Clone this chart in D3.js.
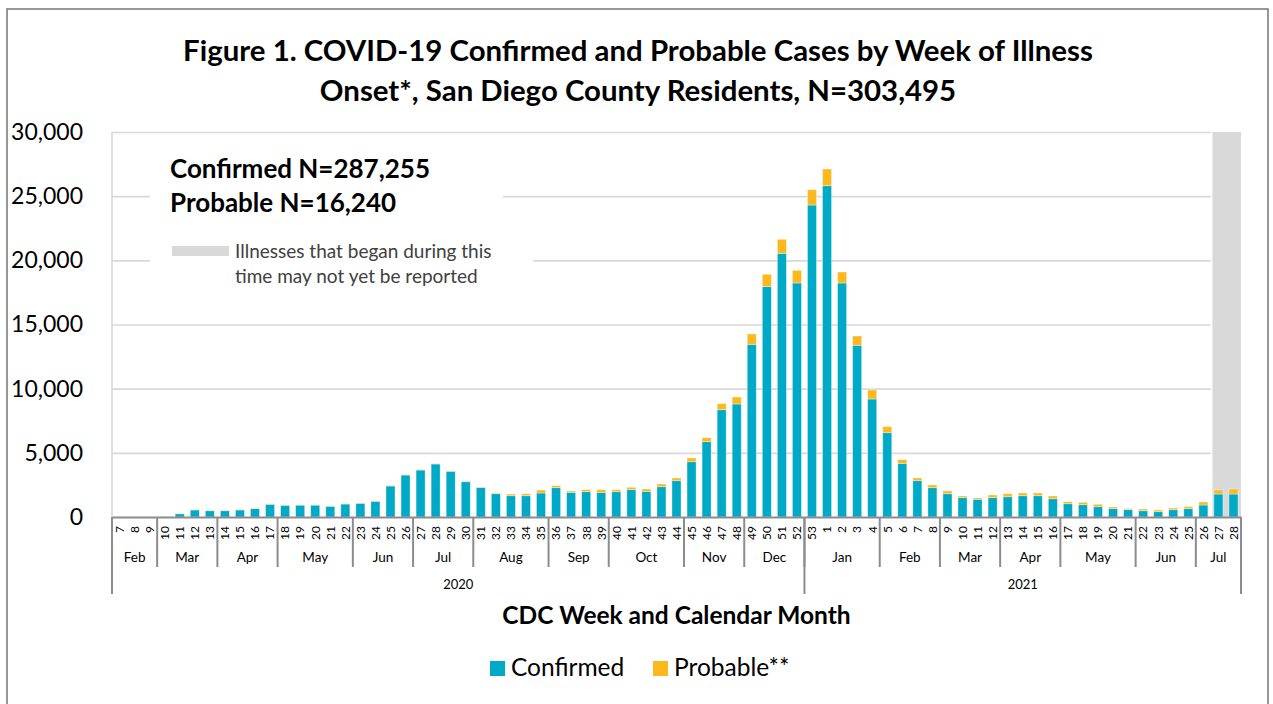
<!DOCTYPE html>
<html>
<head>
<meta charset="utf-8">
<script src="https://cdn.jsdelivr.net/npm/d3@7"></script>
<style>
  html, body { margin: 0; padding: 0; background: #fff; }
  svg { display: block; font-family: Lato, "Open Sans", sans-serif; }
</style>
</head>
<body>
<svg id="chart" width="1273" height="704"></svg>
<script>
// ---------------- DATA ----------------
const weekLabels = [
  "7","8","9","10","11","12","13","14","15","16","17","18","19","20","21","22","23","24","25","26",
  "27","28","29","30","31","32","33","34","35","36","37","38","39","40","41","42","43","44","45","46",
  "47","48","49","50","51","52",
  "53","1","2","3","4","5","6","7","8","9","10","11","12","13","14","15","16","17","18","19","20",
  "21","22","23","24","25","26","27","28"
];
const confirmed = [
  0,0,0,10,250,550,490,490,550,650,990,910,925,925,830,1010,1065,1220,2415,3270,
  3660,4130,3560,2750,2300,1815,1660,1660,1870,2285,1920,1975,1920,1975,2130,2000,2360,2830,4310,5870,
  8360,8805,13455,17950,20545,18235,
  24310,25815,18235,13380,9195,6570,4180,2830,2285,1815,1505,1380,1505,1580,1660,1660,1425,1035,960,805,650,
  570,490,415,570,650,935,1790,1790
];
const probable = [
  0,0,0,0,10,20,20,20,20,25,30,30,30,30,30,30,30,30,30,30,
  30,30,30,30,30,60,130,150,230,155,105,155,210,155,185,180,210,210,290,310,
  470,545,805,960,1095,985,
  1195,1300,855,725,700,470,290,210,210,210,130,100,210,235,210,210,210,155,185,185,130,
  80,130,130,130,155,235,315,390
];
const monthLabels = ["Feb","Mar","Apr","May","Jun","Jul","Aug","Sep","Oct","Nov","Dec",
                     "Jan","Feb","Mar","Apr","May","Jun","Jul"];
const monthWeekCounts = [3,4,4,5,4,4,5,4,5,4,4, 5,4,4,4,5,4,3];
const yearLabels = ["2020","2021"];
const yearWeekCounts = [46,29];
const yTicks = [0,5000,10000,15000,20000,25000,30000];
const notReportedWeeks = [73,74]; // indices of last two weeks (27, 28 of 2021)
const seriesNames = ["Confirmed","Probable**"];
const seriesColors = ["#00A9C6","#FDB81E"];
const titleLines = ["Figure 1. COVID-19 Confirmed and Probable Cases by Week of Illness",
                    "Onset*, San Diego County Residents, N=303,495"];
const noteLines = ["Confirmed N=287,255","Probable N=16,240"];
const shadeNote = ["Illnesses that began during this","time may not yet be reported"];
const xTitle = "CDC Week and Calendar Month";

// ---------------- LAYOUT ----------------
const svg = d3.select("#chart");
const pLeft = 112, pRight = 1241, pTop = 132, pBottom = 517;
const idx = d3.range(weekLabels.length);

const x = d3.scaleBand().domain(idx).range([pLeft, pRight]).paddingInner(0.4).paddingOuter(0.2);
const y = d3.scaleLinear().domain([0, 30000]).range([pBottom, pTop]);
const step = x.step();
const cellStart = i => x(i) - (step - x.bandwidth()) / 2;

// outer frame
svg.append("rect").attr("x", 7).attr("y", 9).attr("width", 1261).attr("height", 710)
  .attr("fill", "#fff").attr("stroke", "#767676").attr("stroke-width", 1.5);

// title
svg.append("g").selectAll("text").data(titleLines).join("text")
  .attr("x", 638).attr("y", (d, i) => 61 + i * 40)
  .attr("text-anchor", "middle").attr("font-weight", "bold").attr("font-size", 29.4)
  .attr("fill", "#000").text(d => d);

// shaded "not yet reported" region
svg.append("rect")
  .attr("x", cellStart(notReportedWeeks[0]) + 1.5)
  .attr("y", y(30000))
  .attr("width", step * notReportedWeeks.length - 1.5)
  .attr("height", y(0) - y(30000))
  .attr("fill", "#D9D9D9");

// gridlines
const grid = svg.append("g").attr("transform", `translate(${pLeft},0)`)
  .call(d3.axisLeft(y).tickValues(yTicks.filter(t => t > 0)).tickSize(-(cellStart(notReportedWeeks[0]) - pLeft)).tickFormat(""));
grid.select(".domain").remove();
grid.selectAll("line").attr("stroke", "#D9D9D9").attr("stroke-width", 1.6);

// left vertical light axis line
svg.append("line").attr("x1", pLeft).attr("x2", pLeft).attr("y1", pTop).attr("y2", pBottom)
  .attr("stroke", "#D9D9D9").attr("stroke-width", 1.6);

// y axis labels
const yAxis = svg.append("g").attr("transform", `translate(${pLeft},0)`)
  .call(d3.axisLeft(y).tickValues(yTicks).tickSize(0).tickPadding(29).tickFormat(d3.format(",")));
yAxis.select(".domain").remove();
yAxis.selectAll("text").attr("font-size", 23).attr("font-family", "Lato").attr("fill", "#000");

// white boxes behind annotation
svg.append("rect").attr("x", 150).attr("y", 145).attr("width", 353).attr("height", 80).attr("fill", "#fff");
svg.append("rect").attr("x", 150).attr("y", 225).attr("width", 383).attr("height", 75).attr("fill", "#fff");

// stacked bars
const stackData = idx.map(i => ({ i, c: confirmed[i], p: probable[i] }));
const stack = d3.stack().keys(["c", "p"])(stackData);
svg.append("g").selectAll("g").data(stack).join("g")
  .attr("fill", (d, k) => seriesColors[k])
  .selectAll("rect").data(d => d).join("rect")
  .attr("x", d => x(d.data.i))
  .attr("width", x.bandwidth())
  .attr("y", d => y(d[1]))
  .attr("height", d => Math.max(0, y(d[0]) - y(d[1])))
  .attr("stroke", "rgba(255,255,255,0.45)").attr("stroke-width", 0.8);

// x axis: week labels
const xAxis = svg.append("g").attr("transform", `translate(0,${pBottom})`)
  .call(d3.axisBottom(x).tickSize(0).tickFormat(i => weekLabels[i]));
xAxis.select(".domain").attr("stroke", "#8C8C8C").attr("stroke-width", 2);
xAxis.selectAll("text")
  .attr("transform", "rotate(-90)")
  .attr("x", -9).attr("y", 0).attr("dy", "0.36em")
  .attr("text-anchor", "end").attr("font-size", 12).attr("font-family", "Lato").attr("fill", "#000");

// month groups
let acc = 0;
const monthGroups = monthLabels.map((m, k) => {
  const s = acc; acc += monthWeekCounts[k];
  return { label: m, start: s, end: acc };
});
const sepX = i => (i >= weekLabels.length ? pRight : cellStart(i));
const mg = svg.append("g");
mg.selectAll("line").data(monthGroups).join("line")
  .attr("x1", d => sepX(d.start)).attr("x2", d => sepX(d.start))
  .attr("y1", pBottom).attr("y2", 567)
  .attr("stroke", "#8C8C8C").attr("stroke-width", 2);
mg.selectAll("text").data(monthGroups).join("text")
  .attr("x", d => (sepX(d.start) + sepX(d.end)) / 2).attr("y", 562)
  .attr("text-anchor", "middle").attr("font-size", 13.5).attr("fill", "#000").text(d => d.label);

// year groups
acc = 0;
const yearGroups = yearLabels.map((yl, k) => {
  const s = acc; acc += yearWeekCounts[k];
  return { label: yl, start: s, end: acc };
});
const yg = svg.append("g");
const yearBounds = yearGroups.map(d => d.start).concat([weekLabels.length]);
yg.selectAll("line").data(yearBounds).join("line")
  .attr("x1", d => sepX(d)).attr("x2", d => sepX(d))
  .attr("y1", pBottom).attr("y2", 594)
  .attr("stroke", "#8C8C8C").attr("stroke-width", 2);
yg.selectAll("text").data(yearGroups).join("text")
  .attr("x", d => (sepX(d.start) + sepX(d.end)) / 2).attr("y", 589)
  .attr("text-anchor", "middle").attr("font-size", 13).attr("fill", "#000").text(d => d.label);

// axis title
svg.append("text").attr("x", (pLeft + pRight) / 2).attr("y", 624)
  .attr("text-anchor", "middle").attr("font-weight", "bold").attr("font-size", 24.5)
  .attr("fill", "#000").text(xTitle);

// N annotation
svg.append("g").selectAll("text").data(noteLines).join("text")
  .attr("x", 170).attr("y", (d, i) => 178 + i * 34)
  .attr("font-weight", "bold").attr("font-size", 26).attr("fill", "#000").text(d => d);

// shade legend
svg.append("rect").attr("x", 172).attr("y", 246).attr("width", 57).attr("height", 10).attr("fill", "#D9D9D9");
svg.append("g").selectAll("text").data(shadeNote).join("text")
  .attr("x", 235).attr("y", (d, i) => 258 + i * 25)
  .attr("font-size", 19).attr("fill", "#404040").text(d => d);

// series legend
const legX = [490, 653];
const lg = svg.append("g").selectAll("g").data(seriesNames).join("g")
  .attr("transform", (d, k) => `translate(${legX[k]},661)`);
lg.append("rect").attr("width", 15).attr("height", 15).attr("fill", (d, k) => seriesColors[k]);
lg.append("text").attr("x", 21).attr("y", 15).attr("font-size", 24.5).attr("fill", "#000").text(d => d);
</script>
</body>
</html>
